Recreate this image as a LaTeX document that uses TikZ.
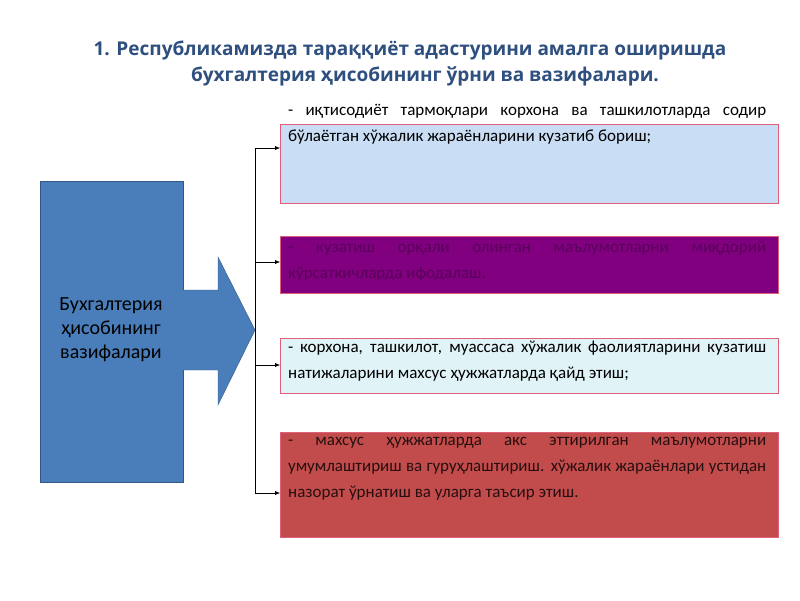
\documentclass[tikz,border=0pt]{standalone}
\usepackage{fontspec}
\setmainfont{Carlito}
\newfontfamily\titlefont{Open Sans}
\usetikzlibrary{arrows.meta}
\definecolor{titleblue}{HTML}{2F4F7F}
\definecolor{mainblue}{HTML}{4A7EBB}
\definecolor{boxone}{HTML}{C9DEF5}
\definecolor{boxtwo}{HTML}{800080}
\definecolor{boxthree}{HTML}{E0F3F7}
\definecolor{boxfour}{HTML}{C24C4C}
\definecolor{edgepink}{HTML}{E0607A}
\tikzset{
  taskbox/.style={draw=edgepink, line width=0.8pt, minimum width=498pt, anchor=north west, inner sep=0pt},
  tasktext/.style={anchor=north west, text width=478pt, align=justify, inner sep=0pt,
    font=\fontsize{17}{26}\selectfont},
  link/.style={-{Latex[length=5pt,width=4pt]}, thin}
}
\begin{document}
\begin{tikzpicture}[x=1pt, y=-1pt]
  \useasboundingbox (0,0) rectangle (800,600);
  % title
  \node[font=\titlefont\bfseries\fontsize{19}{26}\selectfont, text=titleblue, align=center] (title) at (410,63)
    {1. Республикамизда тараққиёт адастурини амалга оширишда\\
     \hspace*{30pt}бухгалтерия ҳисобининг ўрни ва вазифалари.};
  % main block and arrow
  \draw[fill=mainblue, draw=mainblue!70!black] (40,181) rectangle (183,482);
  \node[align=center, font=\fontsize{20}{24}\selectfont] (main) at (111,330)
    {Бухгалтерия\\ ҳисобининг\\ вазифалари};
  \draw[fill=mainblue, draw=mainblue!70!black] (183,290) -- (218,290) -- (218,257) -- (255,330)
    -- (218,405) -- (218,370) -- (183,370);
  \coordinate (tip) at (255,330);
  % boxes
  \node[taskbox, fill=boxone, minimum height=79pt] (b1) at (280,124) {};
  \node[taskbox, fill=boxtwo, minimum height=57pt] (b2) at (280,236) {};
  \node[taskbox, fill=boxthree, minimum height=55pt] (b3) at (280,338) {};
  \node[taskbox, fill=boxfour, minimum height=105pt] (b4) at (280,432) {};
  \node[tasktext] (t1) at (288,104) {- иқтисодиёт тармоқлари корхона ва ташкилотларда содир бўлаётган хўжалик жараёнларини кузатиб бориш;};
  \node[tasktext, text=boxtwo!70!black] (t2) at (288,241) {- кузатиш орқали олинган маълумотларни миқдорий кўрсаткичларда ифодалаш.};
  \node[tasktext] (t3) at (288,341) {- корхона, ташкилот, муассаса хўжалик фаолиятларини кузатиш натижаларини махсус ҳужжатларда қайд этиш;};
  \node[tasktext, text=black!80!boxfour] (t4) at (288,437) {- махсус ҳужжатларда акс эттирилган маълумотларни умумлаштириш ва гуруҳлаштириш. хўжалик жараёнлари устидан назорат ўрнатиш ва уларга таъсир этиш.};
  % connectors
  \coordinate (top) at (255,148);
  \coordinate (bot) at (255,493);
  \draw[thin] (top) -- (bot);
  \draw[link] (top) -- (b1.west |- top);
  \draw[link] (255,262) -- (b2.west |- 0,262);
  \draw[link] (255,365) -- (b3.west |- 0,365);
  \draw[link] (bot) -- (b4.west |- bot);
\end{tikzpicture}
\end{document}
